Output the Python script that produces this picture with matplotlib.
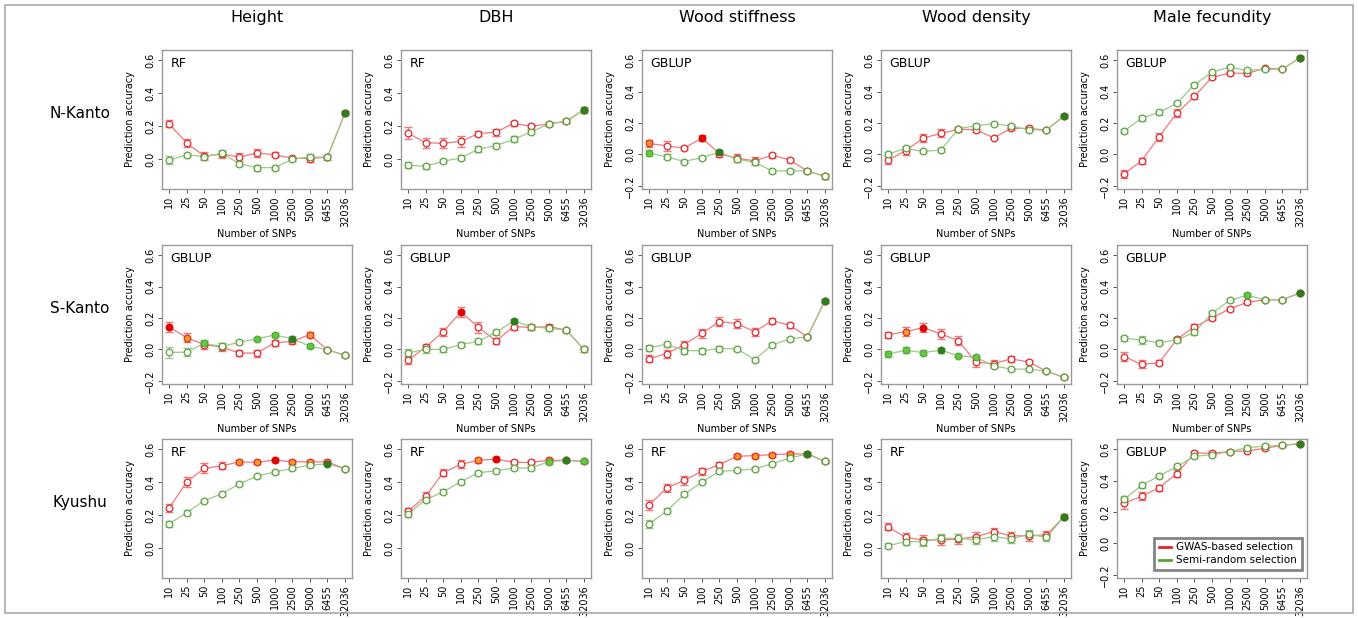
import numpy as np
import matplotlib; matplotlib.use("Agg")
import matplotlib.pyplot as plt
from matplotlib.lines import Line2D
from matplotlib.patches import Rectangle

SNPS = ["10", "25", "50", "100", "250", "500", "1000", "2500", "5000", "6455", "32036"]
TRAITS = ["Height", "DBH", "Wood stiffness", "Wood density", "Male fecundity"]
SITES = ["N-Kanto", "S-Kanto", "Kyushu"]
METHOD = [["RF", "RF", "GBLUP", "GBLUP", "GBLUP"],
          ["GBLUP", "GBLUP", "GBLUP", "GBLUP", "GBLUP"],
          ["RF", "RF", "RF", "RF", "GBLUP"]]

# GWAS-based selection (red), one list per trait, per site
GWAS_NK = [[0.214, 0.098, 0.020, 0.030, 0.014, 0.037, 0.027, 0.006, 0.004, 0.012, 0.280],
           [0.157, 0.100, 0.096, 0.108, 0.155, 0.163, 0.218, 0.198, 0.214, 0.229, 0.300],
           [0.070, 0.055, 0.040, 0.105, 0.005, -0.025, -0.040, -0.005, -0.035, -0.105, -0.140],
           [-0.038, 0.025, 0.104, 0.134, 0.160, 0.157, 0.106, 0.166, 0.166, 0.155, 0.245],
           [-0.125, -0.040, 0.113, 0.264, 0.369, 0.491, 0.518, 0.516, 0.549, 0.543, 0.616]]
GWAS_SK = [[0.144, 0.075, 0.031, 0.015, -0.023, -0.023, 0.042, 0.052, 0.094, -0.002, -0.038],
           [-0.069, 0.015, 0.113, 0.238, 0.142, 0.054, 0.146, 0.140, 0.146, 0.123, 0.000],
           [-0.058, -0.027, 0.031, 0.102, 0.177, 0.165, 0.113, 0.183, 0.154, 0.081, 0.310],
           [0.092, 0.114, 0.139, 0.099, 0.056, -0.082, -0.090, -0.060, -0.080, -0.138, -0.178],
           [-0.045, -0.095, -0.085, 0.065, 0.144, 0.200, 0.259, 0.300, 0.316, 0.316, 0.360]]
GWAS_KY = [[0.241, 0.400, 0.482, 0.498, 0.522, 0.518, 0.533, 0.522, 0.522, 0.522, 0.480],
           [0.224, 0.313, 0.457, 0.507, 0.531, 0.539, 0.519, 0.519, 0.531, 0.531, 0.525],
           [0.260, 0.365, 0.410, 0.465, 0.505, 0.555, 0.560, 0.565, 0.570, 0.570, 0.525],
           [0.130, 0.065, 0.050, 0.050, 0.055, 0.070, 0.100, 0.075, 0.075, 0.080, 0.190],
           [0.255, 0.300, 0.355, 0.445, 0.575, 0.575, 0.585, 0.590, 0.605, 0.625, 0.635]]

# Semi-random selection (green)
RAND_NK = [[-0.006, 0.027, 0.016, 0.035, -0.027, -0.051, -0.051, 0.000, 0.014, 0.012, 0.280],
           [-0.037, -0.043, -0.012, 0.008, 0.061, 0.082, 0.120, 0.165, 0.212, 0.229, 0.300],
           [0.008, -0.015, -0.045, -0.020, 0.015, -0.030, -0.050, -0.105, -0.105, -0.105, -0.140],
           [0.002, 0.038, 0.019, 0.028, 0.164, 0.183, 0.196, 0.181, 0.157, 0.155, 0.245],
           [0.149, 0.231, 0.268, 0.325, 0.444, 0.524, 0.556, 0.535, 0.541, 0.543, 0.616]]
RAND_SK = [[-0.019, -0.017, 0.038, 0.019, 0.046, 0.067, 0.092, 0.069, 0.021, -0.002, -0.038],
           [-0.021, 0.000, 0.000, 0.031, 0.052, 0.110, 0.181, 0.146, 0.135, 0.123, 0.000],
           [0.010, 0.033, -0.008, -0.008, 0.006, 0.004, -0.065, 0.029, 0.067, 0.081, 0.310],
           [-0.030, -0.005, -0.020, -0.005, -0.040, -0.050, -0.105, -0.125, -0.125, -0.138, -0.178],
           [0.071, 0.061, 0.042, 0.061, 0.109, 0.230, 0.312, 0.345, 0.316, 0.316, 0.360]]
RAND_KY = [[0.147, 0.214, 0.288, 0.329, 0.390, 0.435, 0.461, 0.482, 0.502, 0.510, 0.480],
           [0.208, 0.293, 0.341, 0.402, 0.457, 0.467, 0.485, 0.485, 0.523, 0.531, 0.525],
           [0.145, 0.225, 0.325, 0.400, 0.465, 0.470, 0.480, 0.510, 0.545, 0.570, 0.525],
           [0.015, 0.040, 0.040, 0.060, 0.060, 0.050, 0.070, 0.055, 0.085, 0.065, 0.190],
           [0.280, 0.370, 0.430, 0.490, 0.555, 0.565, 0.585, 0.610, 0.620, 0.625, 0.635]]

# error bar half-widths (x 0.001)
ERR_G = [[[25, 12, 12, 20, 15, 18, 12, 10, 15, 15, 10], [18, 15, 12, 15, 18, 15, 18, 15, 12, 12, 18], [18, 15, 12, 12, 15, 18, 15, 15, 12, 15, 15], [15, 10, 12, 12, 12, 12, 10, 12, 12, 8, 10], [15, 15, 15, 12, 12, 10, 10, 10, 10, 8, 8]],
         [[35, 25, 20, 20, 12, 12, 12, 15, 12, 8, 12], [25, 20, 18, 15, 15, 15, 15, 15, 15, 10, 15], [20, 15, 18, 20, 18, 12, 12, 15, 12, 10, 12], [20, 20, 15, 15, 10, 15, 15, 10, 10, 8, 10], [15, 25, 15, 12, 15, 12, 12, 12, 10, 8, 8]],
         [[20, 15, 10, 12, 10, 10, 10, 10, 10, 10, 10], [20, 15, 15, 12, 12, 12, 10, 12, 12, 10, 10], [25, 15, 12, 12, 10, 10, 10, 10, 10, 10, 10], [15, 20, 25, 25, 25, 25, 25, 25, 25, 20, 15], [25, 15, 15, 15, 10, 10, 10, 10, 10, 10, 8]]]
ERR_R = [[[20, 25, 25, 20, 25, 22, 15, 10, 20, 15, 10], [35, 30, 30, 35, 15, 20, 15, 15, 12, 12, 18], [25, 30, 12, 20, 20, 25, 25, 15, 12, 15, 15], [25, 30, 25, 25, 15, 15, 10, 12, 12, 8, 10], [25, 20, 25, 25, 15, 12, 10, 10, 10, 8, 8]],
         [[30, 30, 25, 25, 20, 22, 20, 15, 15, 8, 12], [25, 20, 25, 30, 35, 20, 25, 15, 15, 10, 15], [25, 25, 25, 30, 30, 30, 25, 20, 15, 10, 12], [20, 30, 30, 30, 30, 30, 20, 20, 15, 8, 10], [30, 25, 15, 15, 20, 15, 12, 12, 10, 8, 8]],
         [[25, 30, 30, 20, 12, 12, 12, 12, 12, 12, 10], [20, 25, 20, 25, 15, 12, 12, 12, 12, 10, 10], [30, 25, 25, 20, 15, 12, 12, 12, 12, 12, 10], [20, 25, 30, 30, 30, 30, 25, 25, 30, 25, 15], [35, 25, 20, 20, 15, 12, 12, 12, 10, 10, 8]]]

# marker fill per point: o open, r red, y orange, g dark green, l light green
FILL_G = [["ooooooooooo", "ooooooooooo", "yoorooooooo", "ooooooooooo", "ooooooooooo"],
          ["ryooooooyoo", "ooorooooooo", "ooooooooooo", "oyroooooooo", "ooooooooooo"],
          ["ooooyyryyyo", "ooooyrooyyo", "oooooyyyyyo", "ooooooooooo", "ooooooooooo"]]
FILL_R = [["oooooooooog", "oooooooooog", "looogoooooo", "oooooooooog", "oooooooooog"],
          ["ooloollgloo", "oooooogoooo", "oooooooooog", "lllgllooooo", "oooooooloog"],
          ["ooooooooogo", "oooooooolgl", "ooooooooogo", "oooooooooog", "oooooooooog"]]

RED, RED_L = "#e8242a", "#ef7a7a"
GRN, GRN_L = "#5aa33c", "#9cc98a"
FILLC = {"r": "#e00000", "y": "#f5a020", "g": "#2e7d1e", "l": "#5ccc3a"}

W, H = 1358, 618
LEFTS = [162, 401, 642, 881, 1117]
TOPS = [50, 245, 439]
PW, PH = 190, 139

fig = plt.figure(figsize=(W / 100, H / 100), dpi=100)
fig.patches.append(Rectangle((5 / W, 5 / H), 1 - 10 / W, 1 - 10 / H, transform=fig.transFigure,
                             fill=False, ec="#aaaaaa", lw=1.2))
x = np.arange(len(SNPS))
gw = [GWAS_NK, GWAS_SK, GWAS_KY]
rd = [RAND_NK, RAND_SK, RAND_KY]

def draw(ax, y, err, fills, col, col_l, edge):
    y = np.array(y); e = np.array(err) / 1000
    ax.errorbar(x, y, yerr=e, fmt="none", ecolor=col_l, elinewidth=1.0, capsize=3.2, capthick=1.0, zorder=2)
    ax.plot(x, y, "-", color=col_l, lw=0.9, zorder=3)
    for xi, yi, f in zip(x, y, fills):
        fc = "white" if f == "o" else FILLC[f]
        ax.plot(xi, yi, "o", ms=4.8, mfc=fc, mec=edge if f in "oy" else FILLC[f] if f != "l" else col,
                mew=0.9, zorder=4)

for r in range(3):
    for c in range(5):
        ax = fig.add_axes([LEFTS[c] / W, 1 - (TOPS[r] + PH) / H, PW / W, PH / H])
        draw(ax, gw[r][c], ERR_R[r][c], FILL_G[r][c], RED, RED_L, RED)
        draw(ax, rd[r][c], ERR_G[r][c], FILL_R[r][c], GRN, GRN_L, GRN)
        ax.set_xlim(-0.4, 10.4)
        if METHOD[r][c] == "RF":
            ax.set_ylim(-0.18, 0.66); yt = [0.0, 0.2, 0.4, 0.6]
        else:
            ax.set_ylim(-0.22, 0.665); yt = [-0.2, 0.0, 0.2, 0.4, 0.6]
        ax.set_yticks(yt)
        ax.set_yticklabels([f"{v:.1f}".replace("-", "\u2212") for v in yt], rotation=90, va="center", fontsize=7)
        ax.set_xticks(x)
        ax.set_xticklabels(SNPS, rotation=90, fontsize=7)
        ax.tick_params(length=3, width=0.7, color="#555555", pad=2)
        for s in ax.spines.values():
            s.set_color("#999999"); s.set_linewidth(1.0)
        if r < 2:
            ax.set_xlabel("Number of SNPs", fontsize=7, labelpad=2)
        ax.set_ylabel("Prediction accuracy", fontsize=7, labelpad=7)
        ax.text(0.045, 0.95, METHOD[r][c], transform=ax.transAxes, ha="left", va="top", fontsize=9)
        if r == 0:
            ax.set_title(TRAITS[c], fontsize=11.5, pad=20)
        if r == 2 and c == 4:
            h = [Line2D([], [], color=RED, lw=2), Line2D([], [], color=GRN, lw=2)]
            leg = ax.legend(h, ["GWAS-based selection", "Semi-random selection"], loc="lower right",
                            fontsize=7.5, frameon=True, fancybox=False, borderpad=0.45,
                            handlelength=1.2, handletextpad=0.5, labelspacing=0.3,
                            bbox_to_anchor=(1.0, 0.02))
            leg.get_frame().set_edgecolor("#666666"); leg.get_frame().set_linewidth(2)

for r, site in enumerate(SITES):
    fig.text(80 / W, 1 - (TOPS[r] + 63) / H, site, ha="center", va="center", fontsize=11)

fig.savefig("out.png", dpi=100)
